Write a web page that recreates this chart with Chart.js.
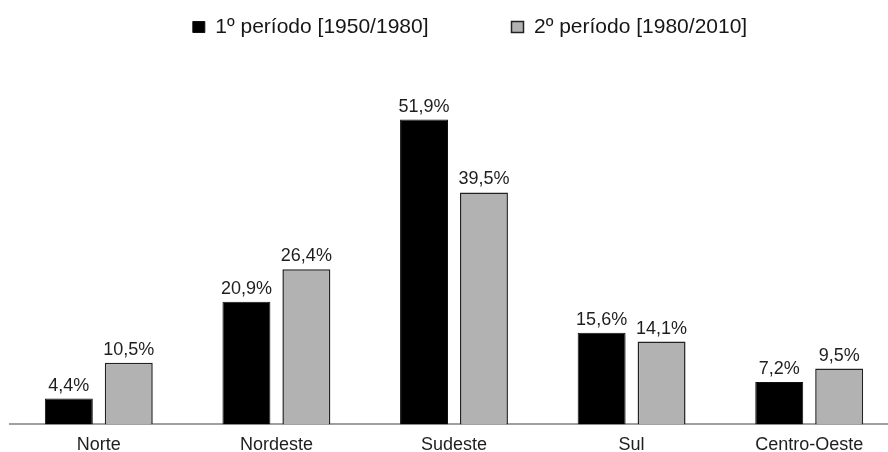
<!DOCTYPE html>
<html>
<head>
<meta charset="utf-8">
<script src="https://cdn.jsdelivr.net/npm/chart.js@4.4.1/dist/chart.umd.min.js"></script>
<style>
  html, body { margin: 0; padding: 0; background: #fff; overflow: hidden; }
  #wrap { width: 898px; height: 452px; position: relative; }
</style>
</head>
<body>
<div id="wrap"><canvas id="c"></canvas></div>
<script>
const categories = ["Norte", "Nordeste", "Sudeste", "Sul", "Centro-Oeste"];
const seriesNames = ["1º período [1950/1980]", "2º período [1980/2010]"];
const period1 = [4.4, 20.9, 51.9, 15.6, 7.2];
const period2 = [10.5, 26.4, 39.5, 14.1, 9.5];

const FONT = '"Liberation Sans", Arial, sans-serif';

const valueLabels = {
  id: 'valueLabels',
  afterDatasetsDraw(chart) {
    const ctx = chart.ctx;
    ctx.save();
    ctx.font = '18px ' + FONT;
    ctx.fillStyle = '#1e1e1e';
    ctx.textAlign = 'center';
    ctx.textBaseline = 'alphabetic';
    chart.data.datasets.forEach((ds, i) => {
      const meta = chart.getDatasetMeta(i);
      meta.data.forEach((el, j) => {
        const txt = ds.data[j].toFixed(1).replace('.', ',') + '%';
        ctx.fillText(txt, el.x, el.y - 8);
      });
    });
    ctx.restore();
  }
};

// place legend row (centre line y ~27, centred at x ~470) without changing its spacing
const legendPlacer = {
  id: 'legendPlacer',
  afterLayout(chart) {
    const lg = chart.legend;
    if (!lg) return;
    const lab = lg.options.labels;
    const fs = lab.font.size;
    const itemH = Math.max(fs, lab.boxHeight || fs);
    const h = lg.bottom - lg.top;
    lg.top = 27 - lab.padding - itemH / 2;
    lg.bottom = lg.top + h;
    const dx = 470 - (lg.left + lg.right) / 2;
    lg.left += dx;
    lg.right += dx;
  }
};

new Chart(document.getElementById('c'), {
  type: 'bar',
  data: {
    labels: categories,
    datasets: [
      { label: seriesNames[0], data: period1, backgroundColor: '#000000', borderColor: '#111111', borderWidth: 1 },
      { label: seriesNames[1], data: period2, backgroundColor: '#b2b2b2', borderColor: '#222222', borderWidth: 1.5 }
    ]
  },
  options: {
    responsive: true,
    maintainAspectRatio: false,
    animation: false,
    layout: { padding: { left: 10, right: 0, top: -42, bottom: -14 } },
    datasets: { bar: { categoryPercentage: 0.675, barPercentage: 0.8 } },
    plugins: {
      legend: {
        display: true,
        position: 'top',
        labels: {
          boxWidth: 12,
          boxHeight: 11,
          padding: 83,
          color: '#161616',
          font: { family: FONT, size: 21 }
        }
      },
      tooltip: { enabled: false }
    },
    scales: {
      x: {
        grid: { display: false, drawTicks: false },
        border: { display: true, color: '#a0a0a0', width: 2 },
        ticks: {
          color: '#1e1e1e',
          padding: 10,
          font: { family: FONT, size: 18 }
        }
      },
      y: {
        display: false,
        min: 0,
        max: 60
      }
    }
  },
  plugins: [valueLabels, legendPlacer]
});
</script>
</body>
</html>
